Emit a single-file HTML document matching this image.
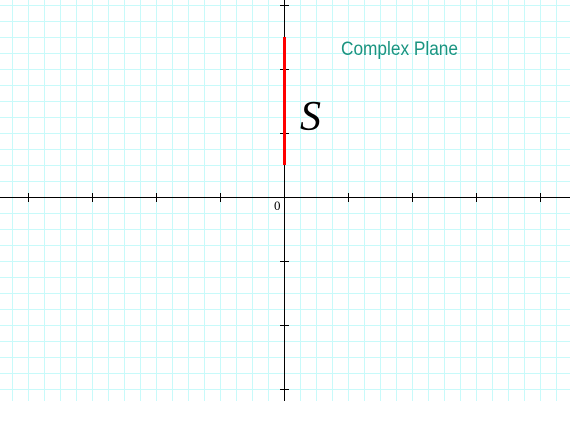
<!DOCTYPE html>
<html><head><meta charset="utf-8"><style>
html,body{margin:0;padding:0;background:#fff;overflow:hidden;}
svg{display:block;}
</style></head><body>
<svg id="chart" width="570" height="424" xmlns="http://www.w3.org/2000/svg">
<g id="grid"></g>
<g id="axes"></g>
<g id="marks"></g>
<text x="341" y="55" font-family="'Liberation Sans', sans-serif" font-size="19" fill="#1a9480" textLength="117" lengthAdjust="spacingAndGlyphs">Complex Plane</text>
<text x="274" y="210" font-family="'Liberation Serif', serif" font-size="13" fill="#000">0</text>
<text x="300" y="130" font-family="'Liberation Serif', serif" font-style="italic" font-size="42" fill="#000">S</text>
</svg>
<script>
const xTicks = [-4, -3, -2, -1, 1, 2, 3, 4];
const yTicks = [3, 2, 1, -1, -2, -3];
const segmentRe = [0, 0];
const segmentIm = [0.5, 2.5];
const ox = 284, oy = 197, unit = 64;
function sx(v){return ox + v*unit;}
function sy(v){return oy - v*unit;}
const NS = "http://www.w3.org/2000/svg";
function line(g,x1,y1,x2,y2,stroke,w){
  const l=document.createElementNS(NS,'line');
  l.setAttribute('x1',x1);l.setAttribute('y1',y1);l.setAttribute('x2',x2);l.setAttribute('y2',y2);
  l.setAttribute('stroke',stroke);l.setAttribute('stroke-width',w);
  g.appendChild(l);return l;
}
const gridG=document.getElementById('grid');
const gridBottom=401;
for(let x=ox%16; x<=570; x+=16){
  const l=line(gridG,x+0.5,0,x+0.5,gridBottom,'#c8fafa',1);
  
  
}
for(let y=oy%16; y<=gridBottom; y+=16){
  const l=line(gridG,0,y+0.5,570,y+0.5,'#c8fafa',1);
  
  
}
const axesG=document.getElementById('axes');
let a=line(axesG,0,oy+0.5,570,oy+0.5,'#000',1);


a=line(axesG,ox+0.5,0,ox+0.5,gridBottom,'#000',1);


xTicks.forEach(v=>{
  const t=line(axesG,sx(v)+0.5,oy-4,sx(v)+0.5,oy+5,'#000',1);
  
  
});
yTicks.forEach(v=>{
  const t=line(axesG,ox-4,sy(v)+0.5,ox+5,sy(v)+0.5,'#000',1);
  
  
});
const marksG=document.getElementById('marks');
const seg=line(marksG,sx(segmentRe[0])+0.5,sy(segmentIm[1]),sx(segmentRe[1])+0.5,sy(segmentIm[0]),'#ff0000',3);


</script>
</body></html>
